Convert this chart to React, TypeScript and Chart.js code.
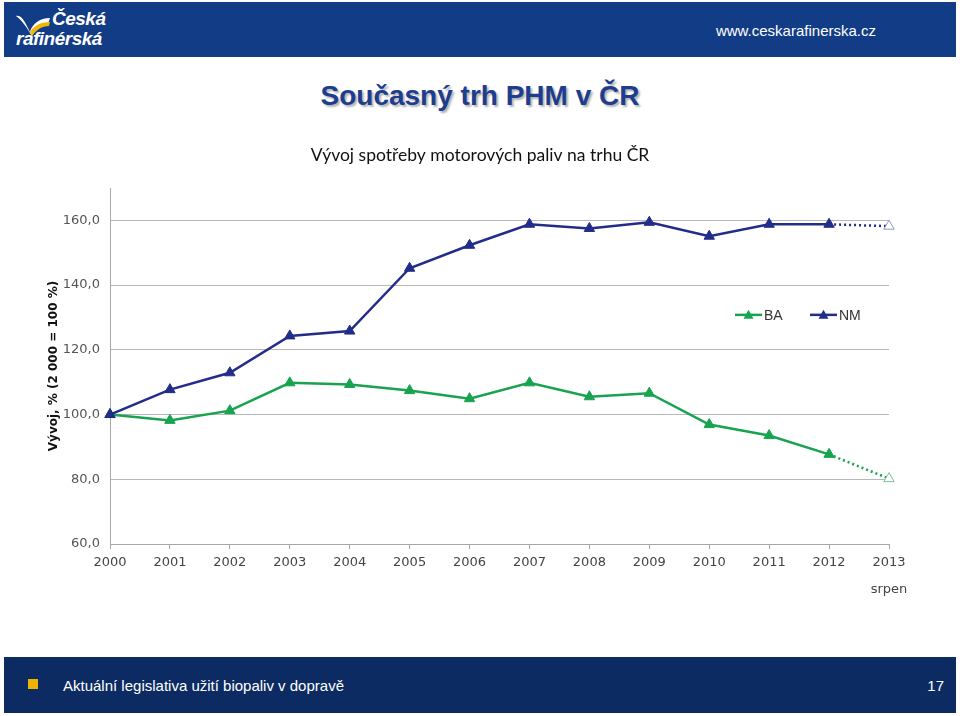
import React, { useEffect, useRef } from "react";
import { Chart, registerables } from "chart.js";

Chart.register(...registerables);

const years = ["2000", "2001", "2002", "2003", "2004", "2005", "2006", "2007", "2008", "2009", "2010", "2011", "2012", "2013"];
const lastSubLabel = "srpen";
const baValues = [100.0, 98.2, 101.2, 109.8, 109.3, 107.4, 104.9, 109.8, 105.5, 106.6, 96.9, 93.5, 87.7, 80.2];
const nmValues = [100.0, 107.7, 112.9, 124.3, 125.8, 145.2, 152.3, 158.8, 157.5, 159.4, 155.1, 158.8, 158.8, 158.2];
const seriesNames = ["BA", "NM"];
const chartTitle = "Vývoj spotřeby motorových paliv na trhu ČR";
const yAxisTitle = "Vývoj, % (2 000 = 100 %)";

const GREEN = "#17a34f";
const NAVY = "#222d8a";

const legendPlugin = {
  id: "inlineLegend",
  afterDatasetsDraw(chart: any) {
    const { ctx, chartArea } = chart;
    const y = chart.scales.y.getPixelForValue(130.8);
    const items = [
      { x: chartArea.right - 154, color: GREEN, text: seriesNames[0] },
      { x: chartArea.right - 79, color: NAVY, text: seriesNames[1] },
    ];
    ctx.save();
    items.forEach((it) => {
      ctx.strokeStyle = it.color;
      ctx.lineWidth = 2.5;
      ctx.beginPath();
      ctx.moveTo(it.x, y);
      ctx.lineTo(it.x + 27, y);
      ctx.stroke();
      ctx.fillStyle = it.color;
      const cx = it.x + 13.5;
      ctx.beginPath();
      ctx.moveTo(cx, y - 5);
      ctx.lineTo(cx + 5, y + 4);
      ctx.lineTo(cx - 5, y + 4);
      ctx.closePath();
      ctx.fill();
      ctx.fillStyle = "#333";
      ctx.font = "14px 'Liberation Sans', Arial, sans-serif";
      ctx.textBaseline = "middle";
      ctx.textAlign = "left";
      ctx.fillText(it.text, it.x + 29, y + 1);
    });
    ctx.restore();
  },
};

function ChartView() {
  const ref = useRef<HTMLCanvasElement | null>(null);
  useEffect(() => {
    if (!ref.current) return;
    const n = years.length;
    const labels = years.map((y, i) => (i === n - 1 ? [y, lastSubLabel] : y));
    const mkDataset = (label: string, data: number[], color: string, hollowBorder: string) => ({
      label,
      data,
      yAxisID: "y",
      borderColor: color,
      backgroundColor: color,
      borderWidth: 2.5,
      pointStyle: "triangle",
      pointRadius: 6,
      pointHoverRadius: 6,
      pointBackgroundColor: data.map((_, i) => (i === n - 1 ? "#ffffff" : color)),
      pointBorderColor: data.map((_, i) => (i === n - 1 ? hollowBorder : color)),
      pointBorderWidth: 1,
      segment: {
        borderDash: (ctx: any) => (ctx.p1DataIndex === n - 1 ? [2, 3] : undefined),
      },
      tension: 0,
    });
    const chart = new Chart(ref.current, {
      type: "line",
      data: {
        labels,
        datasets: [
          mkDataset(seriesNames[1], nmValues, NAVY, "#8f95bf"),
          mkDataset(seriesNames[0], baValues, GREEN, "#7cc49a"),
        ],
      },
      options: {
        animation: false,
        responsive: false,
        maintainAspectRatio: false,
        layout: { padding: { left: 43, right: 43, top: 0, bottom: 0 } },
        plugins: {
          legend: { display: false },
          tooltip: { enabled: false },
          title: {
            display: true,
            text: chartTitle,
            color: "#111",
            font: { family: "Lato, 'Open Sans', sans-serif", size: 17.5, weight: "normal" },
            padding: { top: 20, bottom: 22 },
          },
        },
        scales: {
          x: {
            type: "category",
            offset: false,
            grid: { drawOnChartArea: false, drawTicks: true, tickLength: 5, color: "#a8a8a8" },
            border: { color: "#a8a8a8", width: 1 },
            ticks: {
              color: "#444",
              font: { family: "'DejaVu Sans', Verdana, sans-serif", size: 13, lineHeight: 2.1 },
              padding: 0,
              maxRotation: 0,
              autoSkip: false,
            },
            afterFit: (s: any) => {
              s.height = 60;
            },
          },
          y: {
            position: "left",
            min: 60,
            max: 170,
            afterBuildTicks: (s: any) => {
              s.ticks = [60, 80, 100, 120, 140, 160].map((v) => ({ value: v }));
            },
            grid: { color: "#b8b8b8", drawTicks: false, lineWidth: 1 },
            border: { color: "#a8a8a8", width: 1 },
            ticks: {
              color: "#555",
              padding: 10,
              font: { family: "'DejaVu Sans', Verdana, sans-serif", size: 13 },
              callback: (v: any) => Number(v).toFixed(1).replace(".", ","),
            },
            title: {
              display: true,
              text: yAxisTitle,
              color: "#111",
              font: { family: "'DejaVu Sans', Verdana, sans-serif", size: 12, weight: "bold" },
              padding: { top: 4, bottom: 0 },
            },
            afterFit: (s: any) => {
              s.width = 67;
            },
          },
          yRightSpacer: {
            type: "linear",
            position: "right",
            min: 60,
            max: 170,
            grid: { display: false, drawTicks: false },
            border: { display: false },
            ticks: { display: false },
            afterFit: (s: any) => {
              s.width = 28;
            },
          },
        },
      },
      plugins: [legendPlugin],
    });
    return () => chart.destroy();
  }, []);
  return (
    <canvas
      ref={ref}
      width={960}
      height={479}
      style={{ position: "absolute", left: 0, top: 125, width: 960, height: 479 }}
    />
  );
}

export default function App() {
  useEffect(() => {
    document.body.style.margin = "0";
  }, []);
  return (
    <div style={{ position: "relative", width: 960, height: 716, background: "#fff", overflow: "hidden", fontFamily: "'Liberation Sans', Arial, sans-serif" }}>
      <div style={{ position: "absolute", left: 4, top: 2, width: 952, height: 55, background: "#123c86" }}>
        <svg width="40" height="30" style={{ position: "absolute", left: 10, top: 8 }} viewBox="0 0 40 30">
          <path d="M2 6 C 8 4, 12 14, 16 22 C 18 14, 26 8, 36 8 L 34 14 C 26 14, 22 20, 18 26 C 14 20, 10 12, 2 6 Z" fill="#ffffff" />
          <path d="M16 22 C 20 16, 26 12, 36 12 L 35 16 C 28 16, 22 20, 18 26 Z" fill="#f2b705" />
        </svg>
        <div style={{ position: "absolute", left: 48, top: 7, color: "#fff", fontStyle: "italic", fontWeight: "bold", fontSize: 19, lineHeight: "20px", letterSpacing: -0.5 }}>Česká</div>
        <div style={{ position: "absolute", left: 12, top: 27, color: "#fff", fontStyle: "italic", fontWeight: "bold", fontSize: 19, lineHeight: "20px", letterSpacing: -0.5 }}>rafinérská</div>
        <div style={{ position: "absolute", right: 80, top: 20, color: "#fff", fontSize: 15, lineHeight: "18px" }}>www.ceskarafinerska.cz</div>
      </div>
      <div style={{ position: "absolute", left: 0, width: 960, top: 78, textAlign: "center", color: "#1d3d8f", fontWeight: "bold", fontSize: 28, lineHeight: "36px", textShadow: "2px 2px 2px rgba(0,0,0,0.3)" }}>
        Současný trh PHM v ČR
      </div>
      <ChartView />
      <div style={{ position: "absolute", left: 4, top: 657, width: 952, height: 56, background: "#0c2b62" }}>
        <div style={{ position: "absolute", left: 24, top: 22, width: 10, height: 10, background: "#f0b400" }} />
        <div style={{ position: "absolute", left: 59, top: 20, color: "#fff", fontSize: 15, lineHeight: "18px" }}>Aktuální legislativa užití biopaliv v dopravě</div>
        <div style={{ position: "absolute", right: 12, top: 20, color: "#fff", fontSize: 15, lineHeight: "18px" }}>17</div>
      </div>
    </div>
  );
}
